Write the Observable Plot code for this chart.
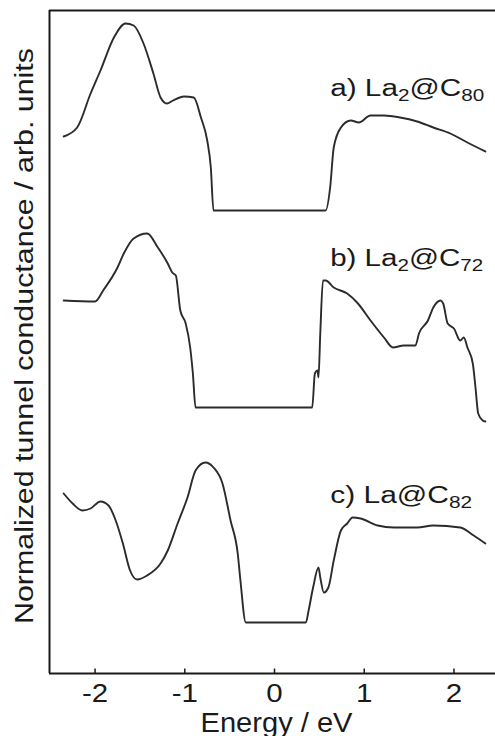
<!DOCTYPE html>
<html><head><meta charset="utf-8">
<script src="https://cdn.jsdelivr.net/npm/d3@7"></script>
<script src="https://cdn.jsdelivr.net/npm/@observablehq/plot@0.6"></script>
<style>body{margin:0;background:#fff} svg{display:block}</style>
</head><body><div id="chart"></div>
<script>
// Energy (eV) and normalized tunnel conductance (arb. units)
const aX = [-2.35,-2.20,-2.05,-1.94,-1.79,-1.66,-1.57,-1.46,-1.35,-1.27,-1.20,-1.13,-1.01,-0.90,-0.82,-0.75,-0.71,-0.68,0.57,0.62,0.66,0.74,0.85,0.94,1.07,1.22,1.40,1.59,1.77,1.96,2.15,2.35];
const aY = [53.7,54.6,58.0,60.3,63.6,65.0,64.8,63.0,60.0,57.6,57.0,57.3,57.7,57.6,55.6,53.3,50.6,46.3,46.3,48.6,52.6,54.6,55.3,55.1,55.8,55.8,55.6,55.2,54.6,54.0,53.1,52.2];
const bX = [-2.35,-2.00,-1.91,-1.75,-1.68,-1.57,-1.42,-1.30,-1.19,-1.14,-1.10,-1.05,-0.99,-0.94,-0.91,-0.88,0.42,0.45,0.48,0.49,0.51,0.54,0.57,0.66,0.81,0.93,1.07,1.22,1.32,1.44,1.57,1.61,1.71,1.77,1.85,1.88,1.93,2.00,2.07,2.11,2.15,2.21,2.24,2.27,2.32,2.35];
const bY = [37.3,37.2,38.3,40.6,42.0,43.5,44.0,42.6,41.0,40.1,39.8,36.3,35.0,32.6,30.0,26.6,26.6,30.0,30.3,29.6,34.0,39.3,39.3,38.6,38.0,37.0,35.3,33.6,32.6,32.8,32.8,34.0,35.3,36.6,37.3,37.0,35.0,34.5,33.3,33.6,32.6,31.0,28.6,26.0,25.3,25.2];
const cX = [-2.35,-2.25,-2.14,-2.05,-1.94,-1.85,-1.77,-1.69,-1.61,-1.53,-1.42,-1.27,-1.19,-1.08,-0.97,-0.88,-0.77,-0.68,-0.58,-0.49,-0.41,-0.38,-0.32,0.35,0.38,0.43,0.49,0.51,0.55,0.60,0.66,0.74,0.81,0.87,0.96,1.15,1.33,1.59,1.77,2.07,2.22,2.35];
const cY = [18.0,17.0,16.3,16.5,17.2,16.8,15.3,13.0,10.3,9.4,9.8,11.0,12.3,15.0,17.6,20.3,21.1,20.6,19.0,15.3,12.0,9.3,5.1,5.1,6.3,8.6,10.6,9.6,8.1,8.6,11.3,14.3,15.0,15.6,15.5,14.8,14.6,14.6,14.8,14.6,13.8,13.0];

const seriesNames = ["a", "b", "c"];
const labelText = ["a) La_2@C_80", "b) La_2@C_72", "c) La@C_82"];
const labelX = [0.62, 0.62, 0.62];
const labelY = [57.8, 40.8, 17.1];
const xTicks = [-2, -1, 0, 1, 2];
const xDomain = [-2.508, 2.463];
const yDomain = [0, 66.3];

const table = [];
[[aX, aY], [bX, bY], [cX, cY]].forEach(([xs, ys], i) => {
  xs.forEach((x, j) => table.push({series: seriesNames[i], x, y: ys[j]}));
});
const labels = labelText.map((t, i) => ({t, x: labelX[i], y: labelY[i]}));

const ink = "#1a1a1a";
const plot = Plot.plot({
  width: 495, height: 736,
  marginLeft: 49, marginRight: 0, marginTop: 10, marginBottom: 63,
  style: {fontFamily: "'Liberation Sans', Arial, sans-serif", color: ink, background: "#fff"},
  x: {domain: xDomain, label: null},
  y: {domain: yDomain, axis: null},
  marks: [
    Plot.line(table, {x: "x", y: "y", z: "series", stroke: "#2b2b2b", strokeWidth: 1.9, curve: "monotone-x"}),
    Plot.ruleY([yDomain[0]], {stroke: ink, strokeWidth: 2}),
    Plot.ruleY([yDomain[1]], {stroke: ink, strokeWidth: 2}),
    Plot.ruleX([xDomain[0]], {stroke: ink, strokeWidth: 2}),
    Plot.ruleX(xTicks, {y1: 0, y2: 0.45, stroke: ink, strokeWidth: 1.5}),
    Plot.axisX({ticks: xTicks, tickSize: 0, tickPadding: 11, fontSize: 25, tickFormat: d => String(d), label: null}),
    Plot.text(labels, {x: "x", y: "y", text: "t", textAnchor: "start", lineAnchor: "bottom", fontSize: 23, fill: ink}),
    Plot.text(["Energy / eV"], {frameAnchor: "bottom", dy: 58, dx: 4, lineAnchor: "bottom", fontSize: 27, fill: ink}),
    Plot.text(["Normalized tunnel conductance / arb. units"], {frameAnchor: "left", rotate: -90, dx: -25, dy: -6, fontSize: 25, fill: ink})
  ]
});
document.getElementById("chart").appendChild(plot);

const NS = "http://www.w3.org/2000/svg";
// stretch a centred text to a given length, keeping its centre in place
function stretchCentered(el, len) {
  const x0 = parseFloat(el.getAttribute("x") || "0");
  el.setAttribute("text-anchor", "start");
  el.setAttribute("x", (x0 - len / 2).toFixed(1));
  el.setAttribute("textLength", len.toFixed(1));
  el.setAttribute("lengthAdjust", "spacingAndGlyphs");
}
const labelLen = {"a) La_2@C_80": 154, "b) La_2@C_72": 153, "c) La@C_82": 142};
plot.querySelectorAll("text").forEach(el => {
  const s = el.textContent;
  if (labelLen[s]) {
    el.textContent = "";
    const parts = s.split(/_(\d+)/);
    parts.forEach((p, i) => {
      if (!p) return;
      const t = document.createElementNS(NS, "tspan");
      t.textContent = p;
      if (i % 2 === 1) { t.setAttribute("font-size", "16"); t.setAttribute("dy", "5"); }
      else if (i > 0) { t.setAttribute("dy", "-5"); }
      el.appendChild(t);
    });
    el.setAttribute("textLength", labelLen[s]);
    el.setAttribute("lengthAdjust", "spacingAndGlyphs");
  } else if (s === "Energy / eV") {
    stretchCentered(el, 152);
  } else if (s.startsWith("Normalized")) {
    stretchCentered(el, 576);
  } else if (/^-?\d$/.test(s)) {
    stretchCentered(el, el.getComputedTextLength() * 1.18);
  }
});
</script>
</body></html>
